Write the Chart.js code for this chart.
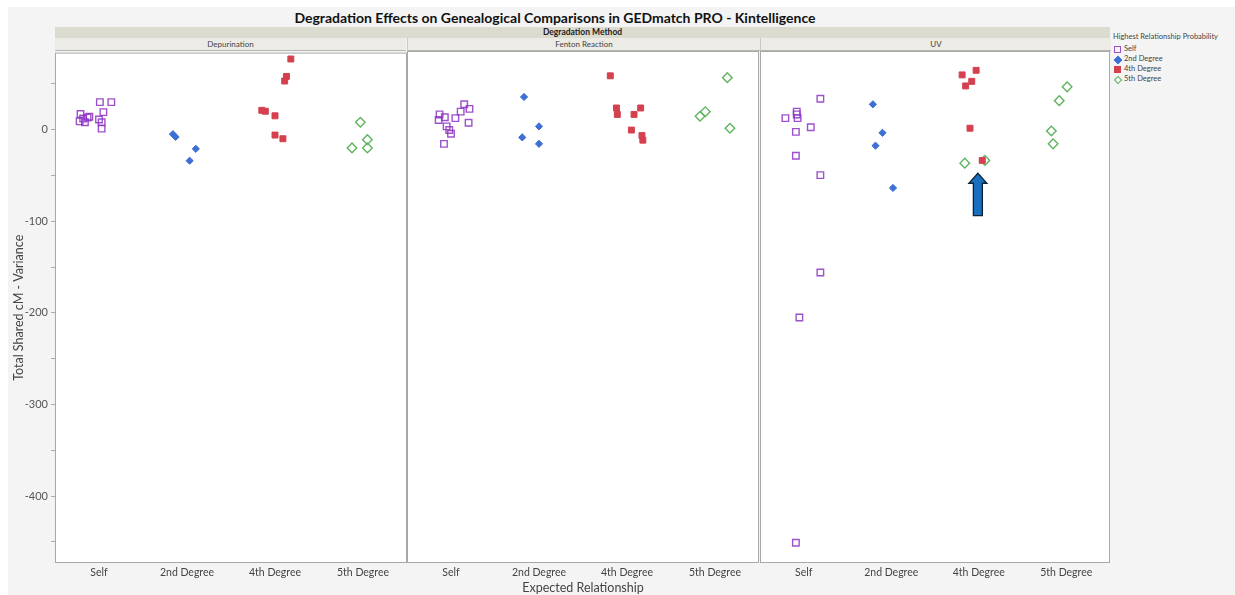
<!DOCTYPE html>
<html>
<head>
<meta charset="utf-8">
<script src="https://cdn.jsdelivr.net/npm/chart.js@4.4.1/dist/chart.umd.min.js"></script>
<style>
  body { margin: 0; background: #fff; font-family: Lato, "Open Sans", sans-serif; color: #333; }
  #page { position: absolute; left: 8px; top: 7px; width: 1227px; height: 588px; background: #f4f4f4; }
  #title { position: absolute; left: 0; top: 9px; width: 1110px; text-align: center; font-weight: bold; font-size: 14px; color: #111; }
  #band { position: absolute; left: 55px; top: 27px; width: 1055px; height: 11px; background: #dcdbcf; font-size: 8.5px; font-weight: bold; line-height: 11px; text-align: center; color: #222; }
  .ph { position: absolute; top: 38px; height: 12px; background: #ecebe5; border-bottom: 1px solid #b5b5b5; font-size: 8px; line-height: 12px; text-align: center; color: #444; }
  canvas { position: absolute; }
  #legend { position: absolute; left: 1113px; top: 32px; font-size: 7.5px; color: #444; }
  #legend .row { height: 10px; line-height: 10px; white-space: nowrap; }
  #legend .sym { display: inline-block; position: relative; width: 9px; height: 10px; vertical-align: top; margin-right: 2px; }
  #legend .sym i { position: absolute; box-sizing: border-box; }
</style>
</head>
<body>
<div id="page"></div>
<div id="title">Degradation Effects on Genealogical Comparisons in GEDmatch PRO - Kintelligence</div>
<div id="band">Degradation Method</div>
<div class="ph" style="left:55px;width:351px">Depurination</div>
<div class="ph" style="left:407px;width:352px;border-left:1px solid #c8c8c8">Fenton Reaction</div>
<div class="ph" style="left:760px;width:350px;border-left:1px solid #c8c8c8">UV</div>
<canvas id="c0" width="407" height="552" style="left:0;top:43px"></canvas>
<canvas id="c1" width="352" height="552" style="left:407px;top:43px"></canvas>
<canvas id="c2" width="350" height="552" style="left:760px;top:43px"></canvas>
<div id="legend"><div class="row" style="margin-bottom:2px">Highest Relationship Probability</div></div>
<script>
const categories = ['Self', '2nd Degree', '4th Degree', '5th Degree'];
const methods = ['Depurination', 'Fenton Reaction', 'UV'];
const seriesNames = ['Self', '2nd Degree', '4th Degree', '5th Degree'];
const yMin = -473, yMax = 84;

// x = expected relationship position (+ jitter), y = Total Shared cM - Variance
// Depurination
const depSelfX = [0.01, 0.14, 0.05, -0.21, -0.11, -0.18, -0.22, -0.16, 0.00, 0.03, 0.03, -0.13];
const depSelfY = [30, 30, 19, 17, 14, 12, 9, 8, 11, 8, 1, 13];
const dep2X = [0.84, 0.87, 1.10, 1.03];
const dep2Y = [-5, -8, -21, -34];
const dep4X = [2.18, 2.13, 2.11, 1.85, 1.89, 2.00, 2.00, 2.09];
const dep4Y = [77, 58, 53, 21, 20, 15, -6, -10];
const dep5X = [2.97, 3.05, 3.05, 2.875];
const dep5Y = [8, -11, -20, -20];

// Fenton Reaction
const fenSelfX = [-0.13, -0.07, -0.14, 0.05, 0.11, 0.15, 0.21, 0.20, -0.05, -0.02, 0.00, -0.08];
const fenSelfY = [15, 12, 9, 11, 18, 26, 21, 6, 2, -2, -6, -17];
const fen2X = [0.83, 1.00, 0.81, 1.00];
const fen2Y = [34, 2, -10, -17];
const fen4X = [1.81, 1.88, 1.89, 2.155, 2.08, 2.05, 2.17, 2.18];
const fen4Y = [57, 22, 15, 22, 15, -2, -8, -13];
const fen5X = [3.14, 2.89, 2.83, 3.17];
const fen5Y = [55, 18, 13, 0];

// UV
const uvSelfX = [0.19, -0.08, -0.08, -0.07, -0.21, 0.08, -0.09, -0.09, 0.19, 0.19, -0.05, -0.09];
const uvSelfY = [32, 18, 15, 11, 11, 1, -4, -30, -51, -157, -206, -451];
const uv2X = [0.79, 0.90, 0.82, 1.02];
const uv2Y = [26, -5, -19, -65];
const uv4X = [1.97, 1.81, 1.92, 1.85, 1.90, 2.04];
const uv4Y = [63, 58, 51, 46, 0, -35];
const uv5X = [1.84, 2.07, 3.01, 2.92, 2.83, 2.85];
const uv5Y = [-38, -35, 45, 30, -3, -17];

// annotation arrow in the UV panel (tip and tail, in data units)
const arrowTip = [1.99, -49];
const arrowTail = [1.99, -95];

const panelData = [
  [[depSelfX, depSelfY], [dep2X, dep2Y], [dep4X, dep4Y], [dep5X, dep5Y]],
  [[fenSelfX, fenSelfY], [fen2X, fen2Y], [fen4X, fen4Y], [fen5X, fen5Y]],
  [[uvSelfX, uvSelfY], [uv2X, uv2Y], [uv4X, uv4Y], [uv5X, uv5Y]]
];

const seriesStyle = [
  { shape: 'rect', radius: 4.6, line: 'rgba(140,50,195,0.85)', fill: 'rgba(255,255,255,0)', width: 1.4 },
  { shape: 'rectRot', radius: 3.6, line: '#3d6fd4', fill: '#3d6fd4', width: 1 },
  { shape: 'rect', radius: 4.2, line: '#d5404f', fill: '#d5404f', width: 1 },
  { shape: 'rectRot', radius: 4.8, line: '#5fb55f', fill: 'rgba(255,255,255,0)', width: 1.4 }
];

const fontFamily = 'Lato, "Open Sans", sans-serif';

const framePlugin = {
  id: 'frame',
  beforeDatasetsDraw(chart) {
    const a = chart.chartArea, ctx = chart.ctx;
    ctx.save();
    ctx.fillStyle = '#ffffff';
    ctx.fillRect(a.left, a.top, a.right - a.left, a.bottom - a.top);
    ctx.strokeStyle = '#a8a8a8';
    ctx.lineWidth = 1;
    ctx.strokeRect(a.left + 0.5, a.top + 0.5, a.right - a.left - 1, a.bottom - a.top - 1);
    ctx.restore();
  }
};

const arrowPlugin = {
  id: 'arrow',
  afterDatasetsDraw(chart) {
    const ctx = chart.ctx;
    const x = chart.scales.x.getPixelForValue(arrowTip[0]);
    const tipY = chart.scales.y.getPixelForValue(arrowTip[1]);
    const tailY = chart.scales.y.getPixelForValue(arrowTail[1]);
    const hw = 9, sw = 4.5, hl = 10;
    ctx.save();
    ctx.beginPath();
    ctx.moveTo(x, tipY);
    ctx.lineTo(x + hw, tipY + hl);
    ctx.lineTo(x + sw, tipY + hl);
    ctx.lineTo(x + sw, tailY);
    ctx.lineTo(x - sw, tailY);
    ctx.lineTo(x - sw, tipY + hl);
    ctx.lineTo(x - hw, tipY + hl);
    ctx.closePath();
    ctx.fillStyle = '#1a6ec0';
    ctx.fill();
    ctx.strokeStyle = '#0e2236';
    ctx.lineWidth = 1.3;
    ctx.stroke();
    ctx.restore();
  }
};

function buildChart(p) {
  const first = p === 0;
  const datasets = seriesNames.map(function (name, s) {
    const xs = panelData[p][s][0], ys = panelData[p][s][1];
    const st = seriesStyle[s];
    return {
      label: name,
      data: xs.map((x, i) => ({ x: x, y: ys[i] })),
      pointStyle: st.shape,
      pointRadius: st.radius,
      pointBorderColor: st.line,
      pointBackgroundColor: st.fill,
      pointBorderWidth: st.width
    };
  });

  return new Chart(document.getElementById('c' + p), {
    type: 'scatter',
    data: { datasets: datasets },
    options: {
      responsive: false,
      animation: false,
      layout: { autoPadding: false, padding: { top: 8, left: 0, right: 0, bottom: 0 } },
      plugins: { legend: { display: false }, tooltip: { enabled: false } },
      scales: {
        x: {
          type: 'linear', min: -0.5, max: 3.5,
          afterFit: s => { s.height = 32; },
          afterBuildTicks: s => { s.ticks = categories.map((c, i) => ({ value: i })); },
          grid: { display: false, drawTicks: false }, border: { display: false },
          ticks: {
            autoSkip: false, maxRotation: 0, padding: 3,
            color: '#444', font: { family: fontFamily, size: 10.5 },
            callback: v => categories[Math.round(v)]
          },
          title: {
            display: p === 1, text: 'Expected Relationship', color: '#444',
            padding: { top: 0, bottom: 0 }, font: { family: fontFamily, size: 12.5 }
          }
        },
        y: {
          min: yMin, max: yMax, display: first,
          afterFit: s => { if (first) s.width = 55; },
          grid: { drawOnChartArea: false, drawTicks: true, tickLength: 4, color: '#aaaaaa' },
          border: { display: false },
          ticks: {
            stepSize: 50, includeBounds: false, padding: 3,
            color: '#555', font: { family: fontFamily, size: 11 },
            callback: v => (v % 100 === 0 ? String(v) : '')
          },
          title: {
            display: first, text: 'Total Shared cM - Variance', color: '#444',
            padding: { top: 11, bottom: 0 }, font: { family: fontFamily, size: 12.5 }
          }
        }
      }
    },
    plugins: p === 2 ? [framePlugin, arrowPlugin] : [framePlugin]
  });
}

methods.forEach((m, p) => buildChart(p));

// legend built from the same series styles
const legend = document.getElementById('legend');
seriesNames.forEach(function (name, s) {
  const st = seriesStyle[s];
  const row = document.createElement('div');
  row.className = 'row';
  const sym = document.createElement('span');
  sym.className = 'sym';
  const i = document.createElement('i');
  if (st.shape === 'rect') {
    i.style.cssText = 'left:1px;top:2px;width:7px;height:7px;border:' + st.width + 'px solid ' + st.line + ';background:' + st.fill;
  } else {
    i.style.cssText = 'left:1.5px;top:2.5px;width:6px;height:6px;transform:rotate(45deg);border:' + st.width + 'px solid ' + st.line + ';background:' + st.fill;
  }
  sym.appendChild(i);
  row.appendChild(sym);
  row.appendChild(document.createTextNode(name));
  legend.appendChild(row);
});
</script>
</body>
</html>
